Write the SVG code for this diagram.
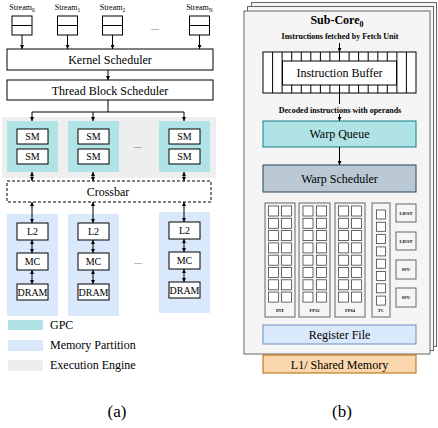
<svg xmlns="http://www.w3.org/2000/svg" width="438" height="428" viewBox="0 0 438 428" font-family="'Liberation Serif', 'DejaVu Serif', serif">
<defs>
<marker id="ah" viewBox="0 0 10 10" refX="10" refY="5" markerWidth="4" markerHeight="4" markerUnits="userSpaceOnUse" orient="auto-start-reverse">
<path d="M0,0 L10,5 L0,10 z" fill="#000"/>
</marker>
<style>
text{font-family:'Liberation Serif','DejaVu Serif',serif;fill:#000}
.bx{fill:#fff;stroke:#000;stroke-width:1}
.t12{font-size:12px;text-anchor:middle}
.t10{font-size:10px;text-anchor:middle}
.t8{font-size:8px;text-anchor:middle}
.b8{font-size:8px;font-weight:bold;text-anchor:middle}
.tiny{font-size:4.5px;font-weight:bold;text-anchor:middle}
.ln{stroke:#000;stroke-width:1;fill:none}
.ar{stroke:#000;stroke-width:1;fill:none;marker-end:url(#ah)}
.da{stroke:#000;stroke-width:1;fill:none;marker-end:url(#ah);marker-start:url(#ah)}
.gpc{fill:#b0e3e6}
.mp{fill:#dae8fc}
.ee{fill:#eeeeee}
.sheet{fill:#f5f5f5;stroke:#666;stroke-width:1}
.col{fill:#f5f5f5;stroke:#666;stroke-width:1}
.sq{fill:#fff;stroke:#444;stroke-width:0.8}
</style>
</defs>
<rect width="438" height="428" fill="#fff"/>

<!-- ===== Panel (a) ===== -->
<g id="exec-engine"><rect class="ee" x="2" y="117" width="214" height="61"/></g>

<g id="stream0"><text x="22" y="10" class="t8">Stream<tspan font-size="5.5" dy="2">0</tspan></text><rect class="bx" x="12" y="16" width="20" height="19"/><line class="ln" x1="12" y1="25.5" x2="32" y2="25.5"/></g>
<g id="stream1"><text x="67.5" y="10" class="t8">Stream<tspan font-size="5.5" dy="2">1</tspan></text><rect class="bx" x="57.5" y="16" width="20" height="19"/><line class="ln" x1="57.5" y1="25.5" x2="77.5" y2="25.5"/></g>
<g id="stream2"><text x="112.5" y="10" class="t8">Stream<tspan font-size="5.5" dy="2">2</tspan></text><rect class="bx" x="102.5" y="16" width="20" height="19"/><line class="ln" x1="102.5" y1="25.5" x2="122.5" y2="25.5"/></g>
<text x="155" y="30" class="t8">....</text>
<g id="streamN"><text x="199.5" y="10" class="t8">Stream<tspan font-size="5.5" dy="2">N</tspan></text><rect class="bx" x="189.5" y="16" width="20" height="19"/><line class="ln" x1="189.5" y1="25.5" x2="209.5" y2="25.5"/></g>

<g id="kernel-scheduler"><rect class="bx" x="7" y="49" width="206" height="21"/><text x="110" y="64" class="t12">Kernel Scheduler</text></g>
<g id="tb-scheduler"><rect class="bx" x="7" y="80" width="206" height="20"/><text x="110" y="94.5" class="t12">Thread Block Scheduler</text></g>

<g id="gpc1"><rect class="gpc" x="7" y="121" width="51" height="51"/><rect class="bx" x="17" y="129" width="31" height="15"/><text x="32.5" y="140" class="t10">SM</text><rect class="bx" x="17" y="149" width="31" height="15"/><text x="32.5" y="160" class="t10">SM</text></g>
<g id="gpc2"><rect class="gpc" x="68" y="121" width="51" height="51"/><rect class="bx" x="78" y="129" width="31" height="15"/><text x="93.5" y="140" class="t10">SM</text><rect class="bx" x="78" y="149" width="31" height="15"/><text x="93.5" y="160" class="t10">SM</text></g>
<text x="138" y="148" class="t8">....</text>
<g id="gpc3"><rect class="gpc" x="159" y="121" width="51" height="51"/><rect class="bx" x="169" y="129" width="31" height="15"/><text x="184.5" y="140" class="t10">SM</text><rect class="bx" x="169" y="149" width="31" height="15"/><text x="184.5" y="160" class="t10">SM</text></g>

<g id="crossbar"><rect x="7" y="181" width="204" height="21" fill="#fff" stroke="#000" stroke-width="1" stroke-dasharray="3,2"/><text x="108" y="196" class="t12">Crossbar</text></g>

<g id="mp1"><rect class="mp" x="7" y="214" width="51" height="102"/><rect class="bx" x="17" y="223" width="31" height="17"/><text x="32.5" y="235" class="t10">L2</text><rect class="bx" x="17" y="253" width="31" height="17"/><text x="32.5" y="265" class="t10">MC</text><rect class="bx" x="17" y="284" width="31" height="16"/><text x="32.5" y="295.5" class="t10">DRAM</text></g>
<g id="mp2"><rect class="mp" x="68" y="214" width="51" height="102"/><rect class="bx" x="78" y="223" width="31" height="17"/><text x="93.5" y="235" class="t10">L2</text><rect class="bx" x="78" y="253" width="31" height="17"/><text x="93.5" y="265" class="t10">MC</text><rect class="bx" x="78" y="284" width="31" height="16"/><text x="93.5" y="295.5" class="t10">DRAM</text></g>
<text x="138" y="264" class="t8">....</text>
<g id="mp3"><rect class="mp" x="159" y="212" width="51" height="101"/><rect class="bx" x="169" y="222" width="31" height="17"/><text x="184.5" y="234" class="t10">L2</text><rect class="bx" x="169" y="252" width="31" height="17"/><text x="184.5" y="264" class="t10">MC</text><rect class="bx" x="169" y="282" width="31" height="16"/><text x="184.5" y="293.5" class="t10">DRAM</text></g>

<g id="legend">
<rect class="gpc" x="8" y="320" width="35" height="10"/><text x="50" y="329" font-size="12">GPC</text>
<rect class="mp" x="8" y="340" width="35" height="11"/><text x="50" y="349" font-size="12">Memory Partition</text>
<rect class="ee" x="8" y="360" width="35" height="11"/><text x="50" y="369" font-size="12">Execution Engine</text>
</g>
<text x="117" y="417" font-size="17" text-anchor="middle">(a)</text>

<g id="connectors-a">
<line class="ar" x1="22" y1="35" x2="22" y2="49"/>
<line class="ar" x1="67.5" y1="35" x2="67.5" y2="49"/>
<line class="ar" x1="112.5" y1="35" x2="112.5" y2="49"/>
<line class="ar" x1="199.5" y1="35" x2="199.5" y2="49"/>
<line class="ar" x1="108" y1="70" x2="108" y2="80"/>
<polyline class="ln" points="108,100 108,112"/>
<line class="ln" x1="32" y1="112" x2="184" y2="112"/>
<line class="ar" x1="32" y1="112" x2="32" y2="121"/>
<line class="ar" x1="93" y1="112" x2="93" y2="121"/>
<line class="ar" x1="184" y1="112" x2="184" y2="121"/>
<line class="da" x1="32" y1="172" x2="32" y2="181"/>
<line class="da" x1="93" y1="172" x2="93" y2="181"/>
<line class="da" x1="184" y1="172" x2="184" y2="181"/>
<line class="da" x1="32" y1="202" x2="32" y2="223"/>
<line class="da" x1="93" y1="202" x2="93" y2="223"/>
<line class="da" x1="184" y1="202" x2="184" y2="222"/>
<line class="da" x1="32" y1="240" x2="32" y2="253"/>
<line class="da" x1="93" y1="240" x2="93" y2="253"/>
<line class="da" x1="184" y1="239" x2="184" y2="252"/>
<line class="da" x1="32" y1="270" x2="32" y2="284"/>
<line class="da" x1="93" y1="270" x2="93" y2="284"/>
<line class="da" x1="184" y1="269" x2="184" y2="282"/>
</g>

<!-- ===== Panel (b) ===== -->
<g id="subcore-stack">
<rect class="sheet" x="251.5" y="2.5" width="185" height="344"/>
<rect class="sheet" x="247.5" y="6.5" width="186" height="344"/>
<rect class="sheet" x="244" y="11" width="186" height="343"/>
</g>
<text x="337" y="24" font-size="12" font-weight="bold" text-anchor="middle">Sub-Core<tspan font-size="8" dy="2.5">0</tspan></text>
<text x="340" y="39" class="b8">Instructions fetched by Fetch Unit</text>

<g id="instruction-buffer">
<rect class="bx" x="263" y="52" width="153" height="41"/>
<g class="ln">
<line x1="272.6" y1="52" x2="272.6" y2="93"/><line x1="282.1" y1="52" x2="282.1" y2="93"/><line x1="291.7" y1="52" x2="291.7" y2="93"/><line x1="301.3" y1="52" x2="301.3" y2="93"/><line x1="310.8" y1="52" x2="310.8" y2="93"/><line x1="320.4" y1="52" x2="320.4" y2="93"/><line x1="329.9" y1="52" x2="329.9" y2="93"/><line x1="339.5" y1="52" x2="339.5" y2="93"/><line x1="349.1" y1="52" x2="349.1" y2="93"/><line x1="358.6" y1="52" x2="358.6" y2="93"/><line x1="368.2" y1="52" x2="368.2" y2="93"/><line x1="377.8" y1="52" x2="377.8" y2="93"/><line x1="387.3" y1="52" x2="387.3" y2="93"/><line x1="396.9" y1="52" x2="396.9" y2="93"/><line x1="406.4" y1="52" x2="406.4" y2="93"/>
</g>
<rect class="bx" x="282.5" y="61" width="114" height="24"/>
<text x="339.5" y="77" class="t12">Instruction Buffer</text>
</g>
<text x="340" y="113" class="b8">Decoded instructions with operands</text>

<g id="warp-queue"><rect x="263" y="121" width="153" height="26" fill="#b0e3e6" stroke="#0e8088" stroke-width="1"/><text x="339.5" y="138" class="t12">Warp Queue</text></g>
<g id="warp-scheduler"><rect x="263" y="165" width="153" height="27" fill="#bac8d3" stroke="#23445d" stroke-width="1"/><text x="339.5" y="182.5" class="t12">Warp Scheduler</text></g>

<g id="int-unit"><rect class="col" x="265" y="203" width="30" height="114"/>
<g class="sq"><rect x="268.5" y="206" width="10" height="10"/><rect x="281.5" y="206" width="10" height="10"/><rect x="268.5" y="218.3" width="10" height="10"/><rect x="281.5" y="218.3" width="10" height="10"/><rect x="268.5" y="230.6" width="10" height="10"/><rect x="281.5" y="230.6" width="10" height="10"/><rect x="268.5" y="242.9" width="10" height="10"/><rect x="281.5" y="242.9" width="10" height="10"/><rect x="268.5" y="255.2" width="10" height="10"/><rect x="281.5" y="255.2" width="10" height="10"/><rect x="268.5" y="267.5" width="10" height="10"/><rect x="281.5" y="267.5" width="10" height="10"/><rect x="268.5" y="279.8" width="10" height="10"/><rect x="281.5" y="279.8" width="10" height="10"/><rect x="268.5" y="292.1" width="10" height="10"/><rect x="281.5" y="292.1" width="10" height="10"/></g>
<text x="280" y="312" class="tiny">INT</text></g>

<g id="fp32-unit"><rect class="col" x="299" y="203" width="31" height="114"/>
<g class="sq"><rect x="303" y="206" width="10" height="10"/><rect x="316.5" y="206" width="10" height="10"/><rect x="303" y="218.3" width="10" height="10"/><rect x="316.5" y="218.3" width="10" height="10"/><rect x="303" y="230.6" width="10" height="10"/><rect x="316.5" y="230.6" width="10" height="10"/><rect x="303" y="242.9" width="10" height="10"/><rect x="316.5" y="242.9" width="10" height="10"/><rect x="303" y="255.2" width="10" height="10"/><rect x="316.5" y="255.2" width="10" height="10"/><rect x="303" y="267.5" width="10" height="10"/><rect x="316.5" y="267.5" width="10" height="10"/><rect x="303" y="279.8" width="10" height="10"/><rect x="316.5" y="279.8" width="10" height="10"/><rect x="303" y="292.1" width="10" height="10"/><rect x="316.5" y="292.1" width="10" height="10"/></g>
<text x="314.5" y="312" class="tiny">FP32</text></g>

<g id="fp64-unit"><rect class="col" x="335" y="203" width="30" height="114"/>
<g class="sq"><rect x="338.5" y="206" width="10" height="10"/><rect x="351.5" y="206" width="10" height="10"/><rect x="338.5" y="218.3" width="10" height="10"/><rect x="351.5" y="218.3" width="10" height="10"/><rect x="338.5" y="230.6" width="10" height="10"/><rect x="351.5" y="230.6" width="10" height="10"/><rect x="338.5" y="242.9" width="10" height="10"/><rect x="351.5" y="242.9" width="10" height="10"/><rect x="338.5" y="255.2" width="10" height="10"/><rect x="351.5" y="255.2" width="10" height="10"/><rect x="338.5" y="267.5" width="10" height="10"/><rect x="351.5" y="267.5" width="10" height="10"/><rect x="338.5" y="279.8" width="10" height="10"/><rect x="351.5" y="279.8" width="10" height="10"/><rect x="338.5" y="292.1" width="10" height="10"/><rect x="351.5" y="292.1" width="10" height="10"/></g>
<text x="350" y="312" class="tiny">FP64</text></g>

<g id="tc-unit"><rect class="col" x="372" y="203" width="18" height="114"/>
<g class="sq"><rect x="376.5" y="210" width="9" height="9"/><rect x="376.5" y="222.3" width="9" height="9"/><rect x="376.5" y="234.6" width="9" height="9"/><rect x="376.5" y="246.9" width="9" height="9"/><rect x="376.5" y="259.2" width="9" height="9"/><rect x="376.5" y="271.5" width="9" height="9"/><rect x="376.5" y="283.8" width="9" height="9"/><rect x="376.5" y="296.1" width="9" height="9"/></g>
<text x="381" y="312" class="tiny">TC</text></g>

<g id="ldst1"><rect class="col" x="396" y="204" width="20" height="18"/><text x="406" y="214.5" class="tiny">LD/ST</text></g>
<g id="ldst2"><rect class="col" x="396" y="232" width="20" height="18"/><text x="406" y="242.5" class="tiny">LD/ST</text></g>
<g id="sfu1"><rect class="col" x="396" y="260" width="20" height="19"/><text x="406" y="271" class="tiny">SFU</text></g>
<g id="sfu2"><rect class="col" x="396" y="288" width="20" height="19"/><text x="406" y="299" class="tiny">SFU</text></g>

<g id="register-file"><rect x="263" y="325" width="153" height="19" fill="#dae8fc" stroke="#6c8ebf" stroke-width="1"/><text x="339.5" y="339" class="t12">Register File</text></g>
<g id="l1-shared"><rect x="263" y="355" width="153" height="18" fill="#fad7ac" stroke="#b46504" stroke-width="1"/><text x="339.5" y="368.5" class="t12">L1/ Shared Memory</text></g>
<text x="342" y="417" font-size="17" text-anchor="middle">(b)</text>

<g id="connectors-b">
<line class="ar" x1="339.5" y1="43" x2="339.5" y2="52"/>
<line class="ln" x1="339.5" y1="93" x2="339.5" y2="104"/>
<line class="ar" x1="339.5" y1="114" x2="339.5" y2="121"/>
<line class="ar" x1="339.5" y1="147" x2="339.5" y2="165"/>
</g>
</svg>
